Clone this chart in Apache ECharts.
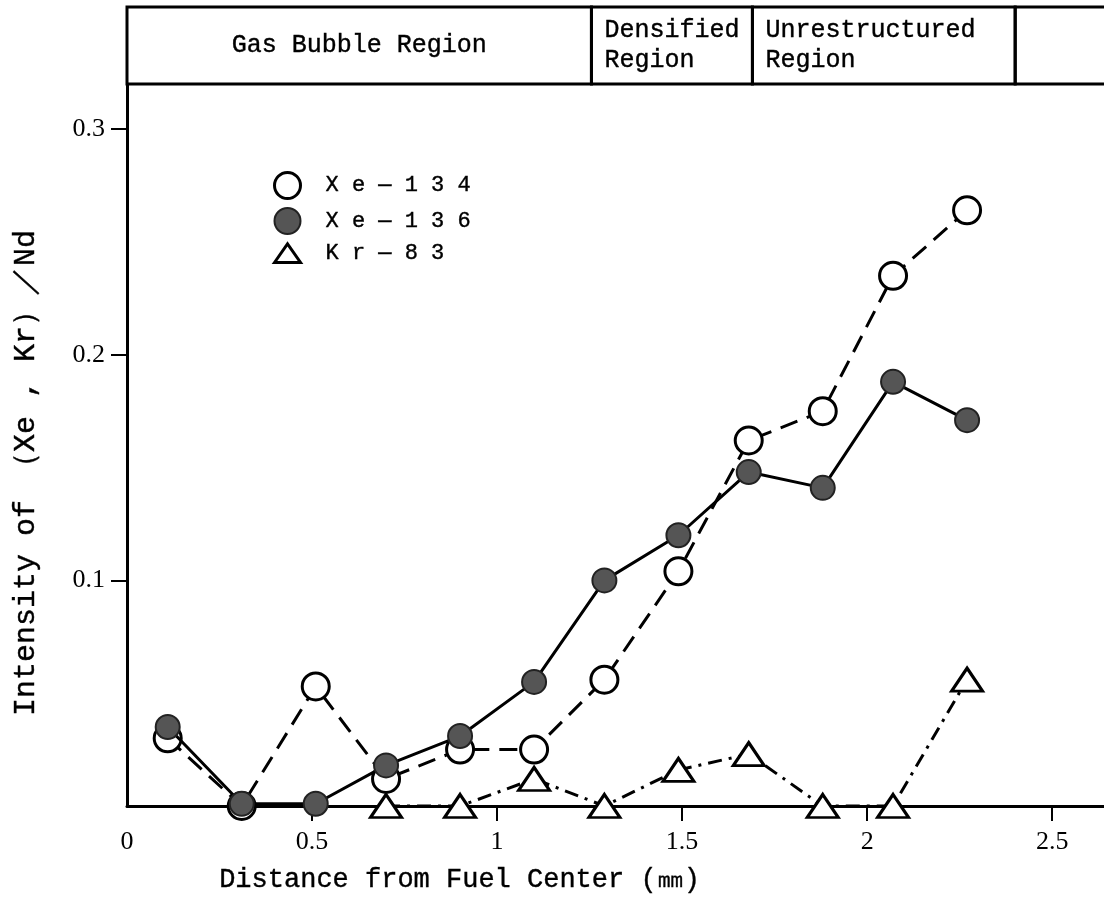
<!DOCTYPE html>
<html>
<head>
<meta charset="utf-8">
<script src="https://cdn.jsdelivr.net/npm/echarts@6/dist/echarts.min.js"></script>
<style>
  html, body { margin: 0; padding: 0; background: #ffffff; }
  #chart { width: 1104px; height: 908px; }
</style>
</head>
<body>
<div id="chart"></div>
<script>
// Measurement positions across the fuel radius (mm)
const distance = [0.11, 0.31, 0.51, 0.70, 0.90, 1.10, 1.29, 1.49, 1.68, 1.88, 2.07, 2.27];
// Relative intensities normalised to Nd
const xe134 = [0.030, 0.000, 0.053, 0.012, 0.025, 0.025, 0.056, 0.104, 0.162, 0.175, 0.235, 0.264];
const xe136 = [0.035, 0.001, 0.001, 0.018, 0.031, 0.055, 0.100, 0.120, 0.148, 0.141, 0.188, 0.171];
const krDistance = [0.70, 0.90, 1.10, 1.29, 1.49, 1.68, 1.88, 2.07, 2.27];
const kr83 = [0.000, 0.000, 0.012, 0.000, 0.016, 0.023, 0.000, 0.000, 0.056];

// Microstructure zones along the radius (start, end in mm)
const regionNames = ['Gas Bubble Region', 'Densified\nRegion', 'Unrestructured\nRegion', ''];
const regionStart = [0, 1.255, 1.69, 2.40];
const regionEnd = [1.255, 1.69, 2.40, 2.90];

const xTicks = [0, 0.5, 1, 1.5, 2, 2.5];
const yTicks = [0.1, 0.2, 0.3];

const monoFont = '"Liberation Mono", "DejaVu Sans Mono", monospace';
const serifFont = '"Liberation Serif", "DejaVu Serif", serif';

const pair = (xs, ys) => xs.map((x, i) => [x, ys[i]]);
const triPath = 'path://M0,20L14,0L28,20Z';

// slightly heavier strokes for the thin monospace face
const inked = { textBorderColor: '#000', textBorderWidth: 0.4 };

const chart = echarts.init(document.getElementById('chart'), null, { renderer: 'canvas' });

chart.setOption({
  backgroundColor: '#ffffff',
  animation: false,
  grid: [
    { left: 127, right: 0, top: 84, bottom: 102, containLabel: false },
    { left: 127, right: 0, top: 7, height: 77, containLabel: false }
  ],
  xAxis: [
    {
      type: 'value', gridIndex: 0, min: 0, max: 2.64,
      name: 'Distance from Fuel Center (㎜)',
      nameLocation: 'middle', nameGap: 60,
      nameTextStyle: Object.assign({ fontFamily: monoFont, fontSize: 27, color: '#000', padding: [0, 312, 0, 0] }, inked),
      axisLine: { show: true, onZero: false, lineStyle: { color: '#000', width: 3 } },
      axisTick: { show: true, customValues: xTicks.slice(1), length: 15, lineStyle: { color: '#000', width: 2 } },
      axisLabel: { customValues: xTicks, margin: 23, fontFamily: serifFont, fontSize: 26, color: '#000' },
      splitLine: { show: false }
    },
    { type: 'value', gridIndex: 1, min: 0, max: 2.64, show: false }
  ],
  yAxis: [
    {
      type: 'value', gridIndex: 0, min: 0, max: 0.32,
      name: 'Intensity of （Xe , Kr）／Nd',
      nameLocation: 'middle', nameGap: 86, nameRotate: 90,
      nameTextStyle: Object.assign({ fontFamily: monoFont, fontSize: 30, color: '#000', padding: [0, 56, 0, 0] }, inked),
      axisLine: { show: true, onZero: false, lineStyle: { color: '#000', width: 3 } },
      axisTick: { show: true, customValues: yTicks, length: 16, lineStyle: { color: '#000', width: 2 } },
      axisLabel: { customValues: yTicks, margin: 22, fontFamily: serifFont, fontSize: 26, color: '#000',
                   formatter: v => String(v) },
      splitLine: { show: false }
    },
    { type: 'value', gridIndex: 1, min: 0, max: 1, show: false }
  ],
  legend: {
    orient: 'vertical', left: 268, top: 166,
    itemWidth: 26, itemHeight: 26, itemGap: 7,
    textStyle: Object.assign({ fontFamily: monoFont, fontSize: 22, color: '#000', padding: [0, 0, 0, 20] }, inked),
    formatter: name => name.split('').join(' '),
    data: [
      { name: 'Xe—134', icon: 'circle', itemStyle: { color: '#fff', borderColor: '#000', borderWidth: 3 } },
      { name: 'Xe—136', icon: 'circle', itemStyle: { color: '#555', borderColor: '#222', borderWidth: 2 } },
      { name: 'Kr—83', icon: triPath, itemStyle: { color: '#fff', borderColor: '#000', borderWidth: 3 } }
    ]
  },
  series: [
    {
      name: 'Xe—134', type: 'line', xAxisIndex: 0, yAxisIndex: 0, z: 2,
      data: pair(distance, xe134),
      symbol: 'circle', symbolSize: 27,
      itemStyle: { color: '#fff', borderColor: '#000', borderWidth: 3 },
      lineStyle: { color: '#000', width: 3, type: [18, 10] }
    },
    {
      name: 'Kr—83', type: 'line', xAxisIndex: 0, yAxisIndex: 0, z: 3,
      data: pair(krDistance, kr83),
      symbol: 'triangle', symbolSize: [31, 23],
      itemStyle: { color: '#fff', borderColor: '#000', borderWidth: 3 },
      lineStyle: { color: '#000', width: 3, type: [14, 7, 3, 7] }
    },
    {
      name: 'Xe—136', type: 'line', xAxisIndex: 0, yAxisIndex: 0, z: 4,
      data: pair(distance, xe136),
      symbol: 'circle', symbolSize: 24,
      itemStyle: { color: '#555', borderColor: '#222', borderWidth: 2 },
      lineStyle: { color: '#000', width: 3 }
    },
    {
      name: 'regions', type: 'custom', xAxisIndex: 1, yAxisIndex: 1, z: 1,
      clip: false, silent: true,
      data: regionStart.map((s, i) => [s, regionEnd[i], regionNames[i]]),
      renderItem: (params, api) => {
        const i = params.dataIndex;
        const p0 = api.coord([api.value(0), 1]);
        const p1 = api.coord([api.value(1), 0]);
        const label = regionNames[i];
        const centred = i === 0;
        return {
          type: 'group',
          children: [
            {
              type: 'rect',
              shape: { x: p0[0], y: p0[1], width: p1[0] - p0[0], height: p1[1] - p0[1] },
              style: { fill: 'none', stroke: '#000', lineWidth: 3 }
            },
            {
              type: 'text',
              x: centred ? (p0[0] + p1[0]) / 2 : p0[0] + 13,
              y: (p0[1] + p1[1]) / 2,
              style: {
                text: label, fill: '#000', stroke: '#000', lineWidth: 0.4,
                fontFamily: monoFont, fontSize: 25, lineHeight: 30,
                align: centred ? 'center' : 'left', verticalAlign: 'middle'
              }
            }
          ]
        };
      }
    }
  ]
});
</script>
</body>
</html>
